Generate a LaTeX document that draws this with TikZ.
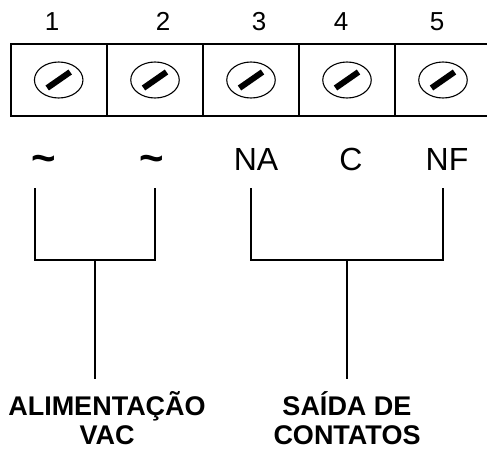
\documentclass[tikz,border=0pt]{standalone}
\usepackage{fontspec}
\setmainfont{Liberation Sans}
\usetikzlibrary{shapes.geometric}
\tikzset{
  wire/.style={line width=1.3pt},
  frame/.style={line width=1.5pt},
  screwhead/.style={draw,line width=1.1pt,ellipse,minimum width=48.5pt,minimum height=36pt,inner sep=0pt},
  slot/.style={line width=6pt},
  numlabel/.style={anchor=base,inner sep=0pt,font=\fontsize{26}{26}\selectfont},
  termlabel/.style={anchor=base,inner sep=0pt,font=\fontsize{32}{32}\selectfont},
  tildelabel/.style={anchor=base,inner sep=0pt,font=\fontsize{42}{42}\selectfont\bfseries},
  caplabel/.style={anchor=base,inner sep=0pt,font=\fontsize{27}{27}\selectfont\bfseries}
}
\begin{document}
\begin{tikzpicture}[x=1pt,y=-1pt]
\useasboundingbox (0,0) rectangle (487,450);
% terminal block
\draw[frame] (11,44) rectangle (490,116);
\foreach \x in {107,203,299,395}{\draw[frame] (\x,44) -- (\x,116);}
\foreach \i/\x in {1/58.7,2/155,3/251,4/347,5/443}{
  \node[screwhead] (s\i) at (\x,80) {};
  \draw[slot] ([shift={(-11.5,8)}]s\i.center) -- ([shift={(11.5,-8)}]s\i.center);
}
% numbers
\node[numlabel] (n1) at (52,30) {1};
\node[numlabel] (n2) at (163,30) {2};
\node[numlabel] (n3) at (259,30) {3};
\node[numlabel] (n4) at (341,30) {4};
\node[numlabel] (n5) at (437,30) {5};
% terminal labels
\node[tildelabel] (t1) at (44,172) {\char"7E};
\node[tildelabel] (t2) at (152,172) {\char"7E};
\node[termlabel] (t3) at (256,170) {NA};
\node[termlabel] (t4) at (351,170) {C};
\node[termlabel] (t5) at (447,170) {NF};
% captions
\node[caplabel] (a1) at (107,415) {ALIMENTAÇÃO};
\node[caplabel] (a2) at (107,444) {VAC};
\node[caplabel] (b1) at (347,415) {SAÍDA DE};
\node[caplabel] (b2) at (347,444) {CONTATOS};
% connectors
\coordinate (la) at (35,188);
\coordinate (lb) at (155,188);
\coordinate (lm) at (95,260);
\coordinate (le) at (95,379);
\coordinate (ra) at (251,188);
\coordinate (rb) at (443,188);
\coordinate (rm) at (347,260);
\coordinate (re) at (347,379);
\draw[wire,line join=miter] (la) |- (lm) -| (lb);
\draw[wire] (lm) -- (le);
\draw[wire,line join=miter] (ra) |- (rm) -| (rb);
\draw[wire] (rm) -- (re);
\end{tikzpicture}
\end{document}
